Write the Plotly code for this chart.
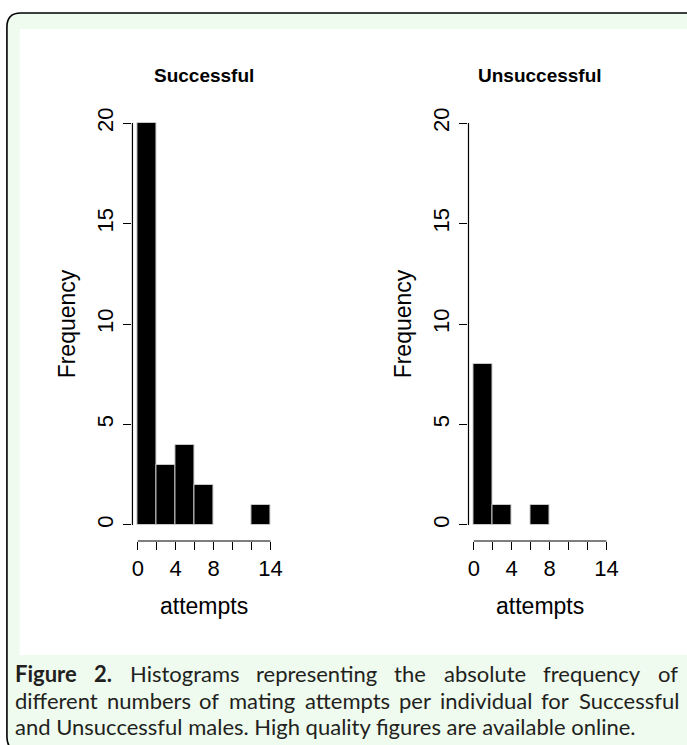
import plotly.graph_objects as go

# ---------------- data ----------------
bin_edges = [0, 2, 4, 6, 8, 10, 12, 14]
successful_counts = [20, 3, 4, 2, 0, 0, 1]
unsuccessful_counts = [8, 1, 0, 1, 0, 0, 0]
panel_titles = ["Successful", "Unsuccessful"]
x_tick_vals = [0, 2, 4, 6, 8, 10, 12, 14]
x_tick_text = ["0", "", "4", "", "8", "", "", "14"]
y_tick_vals = [0, 5, 10, 15, 20]
y_tick_text = ["0", "5", "10", "15", "20"]
x_label = "attempts"
y_label = "Frequency"
caption_line1 = ["<b>Figure</b>", "<b>2.</b>", "Histograms", "representing", "the",
                 "absolute", "frequency", "of"]
caption_line2 = ["different", "numbers", "of", "mating", "attempts", "per",
                 "individual", "for", "Successful"]
caption_line3 = "and Unsuccessful males. High quality figures are available online."

# ---------------- geometry helpers ----------------
W, H = 687, 745


def px(x):
    return x / W


def py(y):
    return 1 - y / H


def r_range(vals):
    lo, hi = min(vals), max(vals)
    pad = 0.04 * (hi - lo)
    return [lo - pad, hi + pad]


mids = [(a + b) / 2 for a, b in zip(bin_edges[:-1], bin_edges[1:])]
widths = [b - a for a, b in zip(bin_edges[:-1], bin_edges[1:])]

fig = go.Figure()
for k, counts in enumerate([successful_counts, unsuccessful_counts]):
    fig.add_trace(go.Bar(
        x=mids, y=counts, width=widths,
        marker=dict(color="black",
                    line=dict(color="#c8c8c8", width=[1 if c > 0 else 0 for c in counts])),
        xaxis="x" if k == 0 else "x2", yaxis="y" if k == 0 else "y2",
        showlegend=False, hoverinfo="skip",
    ))

tickfont = dict(family="Liberation Sans, Arial, sans-serif", size=22, color="black")
titlefont = dict(family="Liberation Sans, Arial, sans-serif", size=23, color="black")

xcommon = dict(range=r_range(x_tick_vals), tickmode="array", tickvals=x_tick_vals,
               ticktext=x_tick_text, showgrid=False, zeroline=False, showline=False,
               ticks="outside", ticklen=8, tickwidth=1, tickcolor="black",
               tickfont=tickfont, title=dict(text=x_label, font=titlefont, standoff=17),
               fixedrange=True)
ycommon = dict(range=r_range(y_tick_vals), tickmode="array", tickvals=y_tick_vals,
               ticktext=y_tick_text, showgrid=False, zeroline=False, showline=False,
               ticks="outside", ticklen=8, tickwidth=1, tickcolor="black",
               tickfont=tickfont, tickangle=-90, ticklabelstandoff=2,
               title=dict(text=y_label, font=titlefont, standoff=10),
               fixedrange=True)

ydom = [py(541), py(107)]
panels_x = [[px(133), px(278)], [px(473), px(618)]]

shapes = []
# outer frame with rounded corners (mint background)
r = 14
L, T, R, B = 6, 13, 720, 751
path = (f"M {px(L)},{py(B - r)} L {px(L)},{py(T + r)} Q {px(L)},{py(T)} {px(L + r)},{py(T)} "
        f"L {px(R)},{py(T)} L {px(R)},{py(B)} L {px(L + r)},{py(B)} Q {px(L)},{py(B)} {px(L)},{py(B - r)} Z")
shapes.append(dict(type="path", path=path, xref="paper", yref="paper",
                   fillcolor="#eefbee", line=dict(color="black", width=1.6), layer="below"))
# white chart area
shapes.append(dict(type="rect", xref="paper", yref="paper", x0=px(19), x1=px(720),
                   y0=py(655), y1=py(29), fillcolor="white", line=dict(width=0), layer="below"))
# R-style axis lines spanning the tick range
for xa, ya in [("x", "y"), ("x2", "y2")]:
    shapes.append(dict(type="line", xref=xa, yref=f"{ya} domain", x0=min(x_tick_vals),
                       x1=max(x_tick_vals), y0=0, y1=0, line=dict(color="black", width=1.2)))
    shapes.append(dict(type="line", xref=f"{xa} domain", yref=ya, x0=0, x1=0,
                       y0=min(y_tick_vals), y1=max(y_tick_vals), line=dict(color="black", width=1.2)))

annotations = []
for k, t in enumerate(panel_titles):
    annotations.append(dict(text=f"<b>{t}</b>", xref="x domain" if k == 0 else "x2 domain",
                            x=0.5, xanchor="center", yref="paper", y=py(76), yanchor="middle",
                            showarrow=False,
                            font=dict(family="Liberation Sans, Arial, sans-serif", size=19,
                                      color="black")))

capfont = dict(family="Lato, 'Open Sans', sans-serif", size=22, color="#231f20")
for name, words, yc in [("cap1", caption_line1, 673), ("cap2", caption_line2, 700)]:
    for w in words:
        annotations.append(dict(text=w, name=name, xref="paper", x=px(13), xanchor="left",
                                yref="paper", y=py(yc), yanchor="middle", showarrow=False,
                                borderpad=0, font=capfont))
annotations.append(dict(text=caption_line3, xref="paper", x=px(13), xanchor="left",
                        yref="paper", y=py(726), yanchor="middle", showarrow=False,
                        borderpad=0, font=capfont))

fig.update_layout(
    width=W, height=H, margin=dict(l=0, r=0, t=0, b=0),
    paper_bgcolor="white", plot_bgcolor="rgba(0,0,0,0)",
    bargap=0, shapes=shapes, annotations=annotations,
    xaxis=dict(domain=panels_x[0], anchor="y", **xcommon),
    yaxis=dict(domain=ydom, anchor="x", **ycommon),
    xaxis2=dict(domain=panels_x[1], anchor="y2", **xcommon),
    yaxis2=dict(domain=ydom, anchor="x2", **ycommon),
    meta={"justify": {"cap1": [13, 684], "cap2": [13, 684]}},
)

post_js = r"""
document.documentElement.style.margin = '0';
document.body.style.margin = '0';
document.body.style.padding = '0';
var gd = document.getElementById('{plot_id}');
function justifyCaption() {
  var Wd = gd._fullLayout.width;
  var spec = (gd.layout.meta || {}).justify || {};
  var anns = gd.layout.annotations || [];
  var upd = {};
  Object.keys(spec).forEach(function (key) {
    var idx = [];
    anns.forEach(function (a, i) { if (a.name === key) idx.push(i); });
    if (idx.length < 2) return;
    var ws = idx.map(function (i) {
      var t = gd.querySelector('g.annotation[data-index="' + i + '"] text.annotation-text');
      return t ? t.getBBox().width : 0;
    });
    var total = ws.reduce(function (s, w) { return s + w; }, 0);
    var gap = (spec[key][1] - spec[key][0] - total) / (idx.length - 1);
    var x = spec[key][0];
    idx.forEach(function (i, j) {
      upd['annotations[' + i + '].x'] = x / Wd;
      x += ws[j] + gap;
    });
  });
  Plotly.relayout(gd, upd);
}
justifyCaption();
"""

fig.write_html("out.html", post_script=post_js, config={"displayModeBar": False})
